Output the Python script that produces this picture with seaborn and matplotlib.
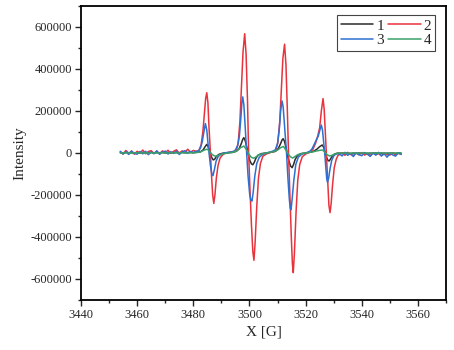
import matplotlib
matplotlib.use("Agg")
import matplotlib.pyplot as plt
from matplotlib.ticker import MultipleLocator, FuncFormatter
from matplotlib.lines import Line2D
import seaborn as sns
import pandas as pd

# ---------------- data ----------------
labels = ["1", "2", "3", "4"]
colors = ["#2b2b2b", "#e8333d", "#2f6fd0", "#3aa06a"]

pre_field = [3454, 3455, 3456, 3457, 3458, 3459, 3460, 3461, 3462, 3463,
             3464, 3465, 3466, 3467, 3468, 3469, 3470, 3471, 3472, 3473,
             3474, 3475, 3476, 3477, 3478, 3479, 3480, 3481]
post_field = [3532, 3533, 3534, 3535, 3536, 3537, 3538, 3539, 3540, 3541,
              3542, 3543, 3544, 3545, 3546, 3547, 3548, 3549, 3550, 3551,
              3552, 3553, 3554]

# sample 1 (black)
pre_1 = [2000, 0, 3000, 1000, 2000, -1000, 3000, 1000, 2000, 0,
         2000, 3000, 0, 2000, 1000, 3000, 0, 2000, 1000, 3000,
         2000, 0, 3000, 1000, 2000, 3000, 1000, 3000]
peak_field_1 = [3482.5, 3483.5, 3484.2, 3484.8, 3485.3, 3485.9, 3486.5, 3487.1, 3487.6, 3488.3, 3489.2, 3490.5, 3492, 3494,
                3495.3, 3496.3, 3497.1, 3497.6, 3498.0, 3498.5, 3499.1, 3499.6, 3500.2, 3500.7, 3501.2, 3501.7, 3502.3, 3503.1, 3504.3, 3506, 3507.5,
                3509.3, 3510.3, 3511.1, 3511.6, 3512.0, 3512.5, 3513.1, 3513.6, 3514.2, 3514.7, 3515.2, 3515.7, 3516.3, 3517.1, 3518.3, 3520, 3521.5,
                3522.8, 3524.0, 3525.0, 3525.9, 3526.4, 3526.9, 3527.5, 3528.0, 3528.4, 3528.9, 3529.6, 3530.5, 3531.3]
peak_int_1 = [5000, 15000, 30000, 41000, 30000, 5000, -20000, -33000, -30000, -15000, -6000, -1000, 1000, 3000,
              8000, 20000, 45000, 65000, 73000, 58000, 25000, -10000, -38000, -52000, -56000, -45000, -25000, -10000, -3000, 0, 3000,
              8000, 22000, 45000, 62000, 68000, 55000, 20000, -15000, -45000, -63000, -70000, -55000, -30000, -12000, -3000, 0, 3000,
              8000, 18000, 30000, 38000, 28000, 5000, -22000, -36000, -38000, -28000, -12000, -4000, -1000]
post_1 = [-1000, -2000, 0, -1000, -3000, -1000, -2000, 0, -2000, -1000,
          -3000, -1000, -2000, 0, -2000, -1000, -3000, -1000, -2000, -1000,
          -2000, 0, -1000]

# sample 2 (red)
pre_2 = [6000, -5000, 12000, -2000, 9000, -6000, 8000, -1000, 14000, -4000,
         7000, 11000, -3000, 9000, -5000, 10000, 1000, 13000, -2000, 8000,
         15000, -1000, 10000, 2000, 18000, 4000, 12000, 8000]
peak_field_2 = [3482.0, 3482.8, 3483.4, 3483.9, 3484.4, 3484.8, 3485.2, 3485.6, 3486.1, 3486.5, 3486.9, 3487.3, 3487.7, 3488.2, 3488.8, 3489.5, 3490.5, 3491.5, 3493, 3494.3,
                3495.3, 3496.0, 3496.6, 3497.1, 3497.7, 3498.3, 3498.8, 3499.3, 3499.7, 3500.2, 3500.7, 3501.2, 3501.6, 3502.0, 3502.6, 3503.2, 3503.9, 3504.8, 3506, 3507.5, 3508.5,
                3509.3, 3510.1, 3510.8, 3511.3, 3511.9, 3512.5, 3513.0, 3513.5, 3513.9, 3514.4, 3514.9, 3515.3, 3515.6, 3516.0, 3516.6, 3517.2, 3517.9, 3518.8, 3520, 3521.3,
                3522.5, 3523.5, 3524.3, 3525.0, 3525.6, 3526.2, 3526.6, 3527.0, 3527.4, 3527.8, 3528.3, 3528.7, 3529.1, 3529.6, 3530.2, 3530.9, 3531.5]
peak_int_2 = [12000, 40000, 100000, 180000, 260000, 287000, 240000, 120000, 0, -110000, -200000, -240000, -200000, -120000, -60000, -25000, -8000, 0, 4000, 7000,
              10000, 50000, 150000, 295000, 480000, 568000, 470000, 250000, 0, -180000, -340000, -470000, -511000, -430000, -255000, -120000, -50000, -15000, -5000, 3000, 6000,
              10000, 50000, 150000, 290000, 450000, 518000, 420000, 200000, 0, -200000, -400000, -530000, -570000, -480000, -280000, -130000, -55000, -18000, -5000, 4000,
              15000, 45000, 80000, 120000, 200000, 259000, 210000, 100000, 0, -130000, -250000, -284000, -240000, -150000, -70000, -30000, -12000]
post_2 = [-8000, 1000, -11000, 3000, -7000, -12000, 0, -9000, 2000, -10000,
          -2000, -12000, 1000, -8000, -3000, -13000, 0, -7000, -10000, 1000,
          -9000, -2000, -6000]

# sample 3 (blue)
pre_3 = [8000, -5000, 6000, -7000, 9000, -2000, -6000, 7000, -4000, 8000,
         -8000, 5000, -3000, 10000, -6000, 4000, 9000, -5000, 6000, -2000,
         8000, -7000, 5000, 11000, -1000, 7000, 2000, 8000]
peak_field_3 = [3481.8, 3482.6, 3483.2, 3483.7, 3484.3, 3484.8, 3485.2, 3485.6, 3486.1, 3486.6, 3487.0, 3487.5, 3488.1, 3488.8, 3489.8, 3491, 3492.5, 3493.8,
                3494.8, 3495.8, 3496.4, 3496.9, 3497.3, 3497.6, 3498.0, 3498.5, 3499.0, 3499.5, 3500.1, 3500.5, 3500.9, 3501.3, 3501.9, 3502.6, 3503.5, 3504.8, 3506, 3507.5, 3508.5,
                3509.2, 3510.0, 3510.6, 3511.1, 3511.6, 3512.0, 3512.6, 3513.2, 3513.7, 3514.2, 3514.5, 3514.8, 3515.2, 3515.8, 3516.5, 3517.4, 3518.6, 3520, 3521.5,
                3522.3, 3523.2, 3523.9, 3524.5, 3525.1, 3525.6, 3526.0, 3526.4, 3526.8, 3527.2, 3527.5, 3527.8, 3528.2, 3528.7, 3529.3, 3530.1, 3531.0]
peak_int_3 = [8000, 25000, 55000, 95000, 140000, 110000, 50000, 0, -60000, -100000, -108000, -80000, -40000, -18000, -6000, 0, 3000, 5000,
              10000, 35000, 80000, 160000, 240000, 267000, 230000, 120000, 0, -110000, -200000, -225000, -229000, -190000, -110000, -50000, -20000, -6000, 0, 5000, 10000,
              15000, 45000, 110000, 200000, 248000, 220000, 110000, 0, -120000, -220000, -260000, -271000, -220000, -130000, -55000, -20000, -6000, 0, 8000,
              20000, 45000, 65000, 80000, 110000, 133000, 110000, 55000, 0, -70000, -120000, -140000, -120000, -75000, -35000, -12000, -4000]
post_3 = [-4000, -14000, 3000, -11000, -2000, -17000, 1000, -8000, -13000, 2000,
          -6000, -16000, -1000, -10000, 3000, -14000, -4000, -20000, -2000, -9000,
          -15000, 1000, -7000]

# sample 4 (green)
pre_4 = [0, 1000, 0, 1000, 0, 0, 1000, 0, 1000, 0,
         0, 1000, 0, 1000, 0, 1000, 0, 0, 1000, 0,
         1000, 0, 1000, 1000, 0, 1000, 1000, 2000]
peak_field_4 = [3482.3, 3483.3, 3484.3, 3485.0, 3485.8, 3486.6, 3487.5, 3488.3, 3489.3, 3490.5, 3492,
                3494, 3495.5, 3496.8, 3498.0, 3499.0, 3499.8, 3500.6, 3501.5, 3502.4, 3503.4, 3505, 3507,
                3508.5, 3510, 3511.2, 3512.1, 3513.0, 3513.8, 3514.6, 3515.4, 3516.2, 3517.2, 3519, 3521,
                3522.5, 3524, 3525.2, 3526.0, 3526.8, 3527.6, 3528.5, 3529.3, 3530.2, 3531.3]
peak_int_4 = [4000, 10000, 16000, 18000, 8000, -6000, -14000, -15000, -9000, -4000, -1000,
              3000, 10000, 25000, 33000, 15000, -6000, -20000, -25000, -18000, -8000, -2000, 2000,
              6000, 14000, 26000, 31000, 14000, -6000, -18000, -24000, -17000, -8000, -2000, 2000,
              5000, 10000, 13000, 14000, 5000, -8000, -14000, -12000, -6000, -2000]
post_4 = [0, -1000, 0, 0, -1000, 0, -1000, 0, 0, -1000,
          0, -1000, 0, 0, -1000, 0, 0, -1000, 0, 0,
          -1000, 0, 0]

xticks_major = 20
yticks_major = 200000

# ---------------- build long table ----------------
series = [
    (labels[0], pre_1, peak_field_1, peak_int_1, post_1),
    (labels[1], pre_2, peak_field_2, peak_int_2, post_2),
    (labels[2], pre_3, peak_field_3, peak_int_3, post_3),
    (labels[3], pre_4, peak_field_4, peak_int_4, post_4),
]
rows = []
for lab, pre, pf, pi, post in series:
    xs = list(pre_field) + list(pf) + list(post_field)
    ys = list(pre) + list(pi) + list(post)
    for x, y in zip(xs, ys):
        rows.append({"field": x, "intensity": y, "sample": lab})
df = pd.DataFrame(rows)

# ---------------- plot ----------------
sns.set_style("ticks")
plt.rcParams["font.family"] = ["Liberation Serif", "DejaVu Serif"]

fig = plt.figure(figsize=(4.54, 3.5), dpi=100)
ax = fig.add_axes([0.1784, 0.1429, 0.804, 0.84])

palette = dict(zip(labels, colors))
sns.lineplot(data=df, x="field", y="intensity", hue="sample", hue_order=labels,
             palette=palette, sort=False, estimator=None, units="sample",
             linewidth=1.1, ax=ax, legend=False)

ax.set_xlim(3440, 3570)
ax.set_ylim(-700000, 700000)
ax.xaxis.set_major_locator(MultipleLocator(xticks_major))
ax.xaxis.set_minor_locator(MultipleLocator(xticks_major / 2))
ax.yaxis.set_major_locator(MultipleLocator(yticks_major))
ax.yaxis.set_minor_locator(MultipleLocator(yticks_major / 2))
fmt = FuncFormatter(lambda v, p: f"{int(round(v))}")
ax.xaxis.set_major_formatter(fmt)
ax.yaxis.set_major_formatter(fmt)
ax.tick_params(axis="both", which="major", direction="out", length=4.5, width=1.0,
               labelsize=9, top=False, right=False, pad=2)
ax.tick_params(axis="both", which="minor", direction="out", length=2.5, width=1.0,
               top=False, right=False)
for s in ax.spines.values():
    s.set_visible(True)
    s.set_linewidth(1.3)
    s.set_color("black")

ax.set_xlabel("X [G]", fontsize=11, labelpad=3)
ax.set_ylabel("Intensity", fontsize=11, labelpad=3)

# legend filled row-wise: row 1 -> 1, 2 ; row 2 -> 3, 4
leg_order = [0, 2, 1, 3]
handles = [Line2D([], [], color=colors[i], lw=1.1) for i in leg_order]
leg = ax.legend(handles, [labels[i] for i in leg_order], ncol=2, loc="upper right",
                bbox_to_anchor=(0.970, 0.969), borderaxespad=0,
                fontsize=11, handlelength=2.1, handletextpad=0.2,
                columnspacing=0.3, labelspacing=0.05, borderpad=0.25,
                frameon=True, fancybox=False, framealpha=1)
leg.get_frame().set_edgecolor("#444444")
leg.get_frame().set_linewidth(0.8)

fig.savefig("out.png", dpi=100)
